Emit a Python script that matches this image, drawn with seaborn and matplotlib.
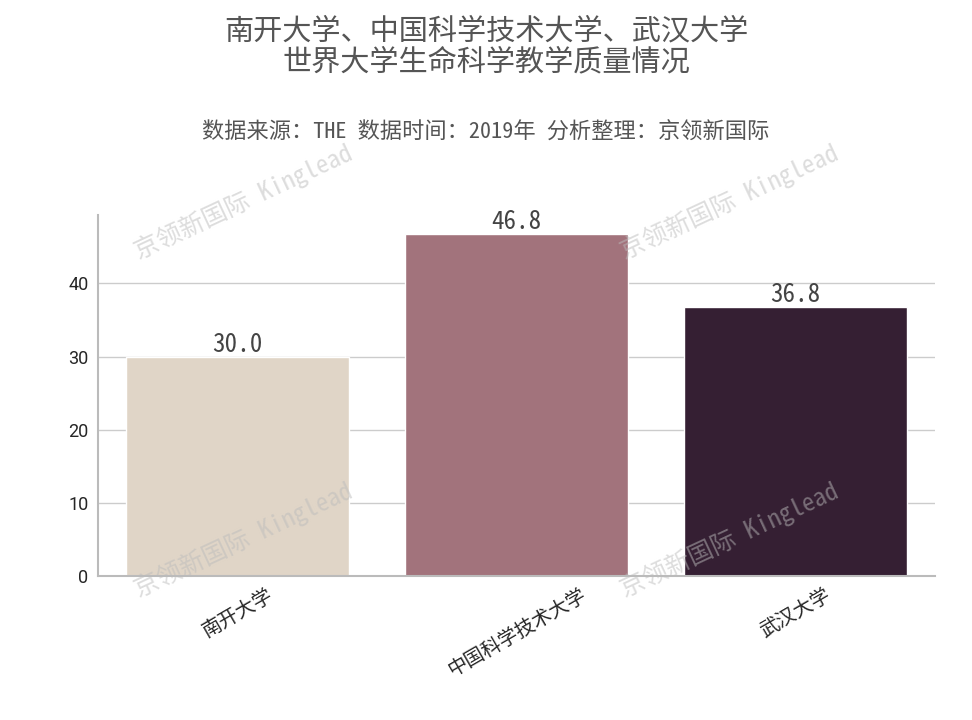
import matplotlib
matplotlib.use('Agg')
import matplotlib.pyplot as plt
import seaborn as sns
import pandas as pd

universities = ['南开大学', '中国科学技术大学', '武汉大学']
scores = [30.0, 46.8, 36.8]
bar_colors = ['#e0d5c7', '#a2737c', '#351f33']

sns.set_style('whitegrid')
plt.rcParams['font.family'] = ['Noto Sans Mono CJK SC', 'Noto Sans CJK SC', 'DejaVu Sans']

df = pd.DataFrame({'university': universities, 'score': scores})

fig = plt.figure(figsize=(9.72, 7.2), dpi=100)
ax = fig.add_axes([0.101, 0.2, 0.861, 0.502])
sns.barplot(data=df, x='university', y='score', hue='university', palette=bar_colors,
            legend=False, ax=ax, width=0.8, saturation=1)

for i, v in enumerate(scores):
    ax.text(i, v, f'{v:.1f}', ha='center', va='bottom', fontsize=18, color='#444444')

ax.set_ylim(0, 49.4)
ax.set_yticks([0, 10, 20, 30, 40])
ax.set_xlabel('')
ax.set_ylabel('')
ax.grid(axis='x', visible=False)
ax.grid(axis='y', color='#cccccc', linewidth=1)
for s in ['top', 'right']:
    ax.spines[s].set_visible(False)
for s in ['left', 'bottom']:
    ax.spines[s].set_color('#bbbbbb')
    ax.spines[s].set_linewidth(1.5)
ax.tick_params(axis='y', labelsize=13)
ax.tick_params(axis='x', labelsize=14)
for lbl in ax.get_yticklabels():
    lbl.set_family(['Roboto', 'DejaVu Sans'])
plt.setp(ax.get_xticklabels(), rotation=30, ha='center', va='top')

fig.text(0.5, 0.935, '南开大学、中国科学技术大学、武汉大学\n世界大学生命科学教学质量情况',
         ha='center', va='center', fontsize=21, color='#555555', linespacing=1.15)
fig.text(0.5, 0.815, '数据来源：THE 数据时间：2019年 分析整理：京领新国际',
         ha='center', va='center', fontsize=16, color='#555555')

for x, y in [(0.25, 0.72), (0.75, 0.72), (0.25, 0.25), (0.75, 0.25)]:
    fig.text(x, y, '京领新国际 Kinglead', ha='center', va='center', fontsize=18,
             color='#bbbbbb', alpha=0.5, rotation=25)

fig.savefig('out.png', dpi=100)
